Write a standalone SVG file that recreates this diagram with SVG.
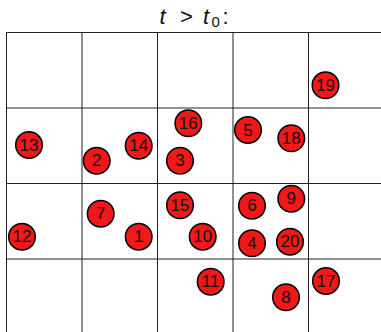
<svg xmlns="http://www.w3.org/2000/svg" width="381" height="332" viewBox="0 0 381 332">
<style>
.grid line{stroke:#222;stroke-width:1}
.n circle{fill:#f01818;stroke:#000;stroke-width:1.5}
.n text{font-family:"Liberation Sans Narrow","Liberation Sans",sans-serif;font-size:17px;fill:#111;text-anchor:middle;dominant-baseline:central}
.title{font-family:"Liberation Sans","DejaVu Sans",sans-serif;font-size:22px;fill:#111}
</style>
<rect width="381" height="332" fill="#fff"/>
<text class="title" y="23.5"><tspan x="159.5" font-style="italic">t</tspan><tspan x="180">&gt;</tspan><tspan x="203" font-style="italic">t</tspan><tspan x="211.5" y="26.5" font-size="15" font-family="Liberation Sans Narrow, Liberation Sans, sans-serif">0</tspan><tspan x="222.5" y="23.5">:</tspan></text>
<g class="grid" id="grid">
<line x1="6.5" y1="32.5" x2="6.5" y2="332"/>
<line x1="82" y1="32.5" x2="82" y2="332"/>
<line x1="157.5" y1="32.5" x2="157.5" y2="332"/>
<line x1="233" y1="32.5" x2="233" y2="332"/>
<line x1="308.5" y1="32.5" x2="308.5" y2="332"/>
<line x1="6" y1="32.5" x2="381" y2="32.5"/>
<line x1="6" y1="108" x2="381" y2="108"/>
<line x1="6" y1="183.5" x2="381" y2="183.5"/>
<line x1="6" y1="259" x2="381" y2="259"/>
</g>
<g id="connectors"/>
<g class="n" id="n1"><circle cx="138.7" cy="236.7" r="13.3"/><text x="138.7" y="236.7">1</text></g>
<g class="n" id="n2"><circle cx="96.7" cy="160.7" r="13.3"/><text x="96.7" y="160.7">2</text></g>
<g class="n" id="n3"><circle cx="180" cy="160.7" r="13.3"/><text x="180" y="160.7">3</text></g>
<g class="n" id="n4"><circle cx="252" cy="243.3" r="13.3"/><text x="252" y="243.3">4</text></g>
<g class="n" id="n5"><circle cx="248" cy="130" r="13.3"/><text x="248" y="130">5</text></g>
<g class="n" id="n6"><circle cx="252" cy="205.7" r="13.3"/><text x="252" y="205.7">6</text></g>
<g class="n" id="n7"><circle cx="100.7" cy="213.7" r="13.3"/><text x="100.7" y="213.7">7</text></g>
<g class="n" id="n8"><circle cx="286" cy="297.3" r="13.3"/><text x="286" y="297.3">8</text></g>
<g class="n" id="n9"><circle cx="291.3" cy="198.7" r="13.3"/><text x="291.3" y="198.7">9</text></g>
<g class="n" id="n10"><circle cx="202.7" cy="236.7" r="13.3"/><text x="202.7" y="236.7">10</text></g>
<g class="n" id="n11"><circle cx="210.7" cy="281.7" r="13.3"/><text x="210.7" y="281.7">11</text></g>
<g class="n" id="n12"><circle cx="22" cy="236.7" r="13.3"/><text x="22" y="236.7">12</text></g>
<g class="n" id="n13"><circle cx="29" cy="145" r="13.3"/><text x="29" y="145">13</text></g>
<g class="n" id="n14"><circle cx="138.7" cy="145.7" r="13.3"/><text x="138.7" y="145.7">14</text></g>
<g class="n" id="n15"><circle cx="180" cy="205.3" r="13.3"/><text x="180" y="205.3">15</text></g>
<g class="n" id="n16"><circle cx="188.3" cy="123.3" r="13.3"/><text x="188.3" y="123.3">16</text></g>
<g class="n" id="n17"><circle cx="326" cy="281" r="13.3"/><text x="326" y="281">17</text></g>
<g class="n" id="n18"><circle cx="291.3" cy="138.3" r="13.3"/><text x="291.3" y="138.3">18</text></g>
<g class="n" id="n19"><circle cx="325.5" cy="85.3" r="13.3"/><text x="325.5" y="85.3">19</text></g>
<g class="n" id="n20"><circle cx="290" cy="241.7" r="13.3"/><text x="290" y="241.7">20</text></g>
</svg>
